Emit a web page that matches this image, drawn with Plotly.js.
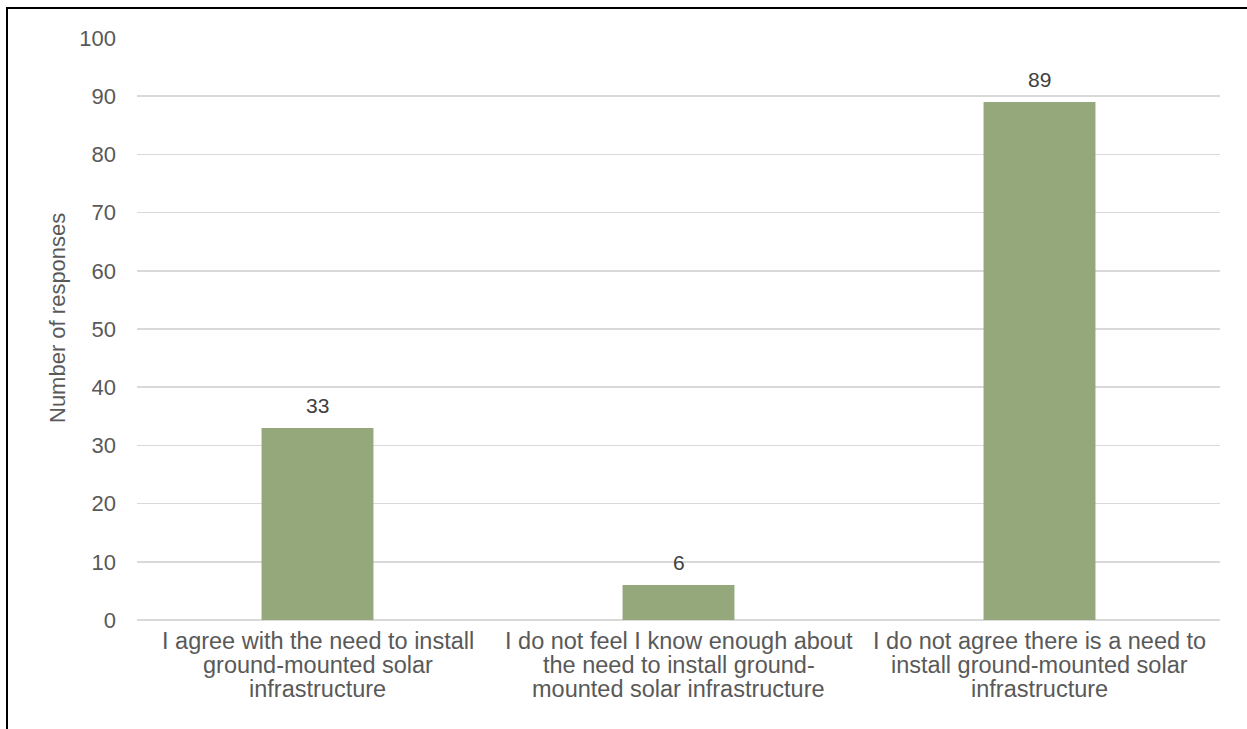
<!DOCTYPE html>
<html>
<head>
<meta charset="utf-8">
<script src="https://cdn.plot.ly/plotly-3.0.1.min.js"></script>
<style>
html,body{margin:0;padding:0;background:#fff;}
#chart{width:1247px;height:729px;}
</style>
</head>
<body>
<div id="chart"></div>
<script>
const categories = [
  "I agree with the need to install<br>ground-mounted solar<br>infrastructure",
  "I do not feel I know enough about<br>the need to install ground-<br>mounted solar infrastructure",
  "I do not agree there is a need to<br>install ground-mounted solar<br>infrastructure"
];
const responses = [33, 6, 89];
const yTitle = "Number of responses";

const W = 1247, H = 729;
const m = {l: 137, r: 27, t: 38, b: 109};
const pw = W - m.l - m.r, ph = H - m.t - m.b;
const px = x => (x - m.l) / pw;
const py = y => 1 - (y - m.t) / ph;
const FONT = "Liberation Sans, Arial, sans-serif";

const trace = {
  type: "bar",
  x: categories,
  y: responses,
  marker: {color: "#94a87b"},
  width: 0.31,
  hoverinfo: "x+y"
};

const annotations = [];
// data labels
categories.forEach((c, i) => {
  annotations.push({
    x: c, y: responses[i], xref: "x", yref: "y",
    text: String(responses[i]), showarrow: false,
    yanchor: "bottom", yshift: 9,
    font: {family: FONT, size: 21, color: "#404040"}
  });
});
// category labels, one annotation per line for Excel-like tight line spacing
categories.forEach((c, i) => {
  c.split("<br>").forEach((line, j) => {
    annotations.push({
      x: c, y: 0, xref: "x", yref: "paper",
      text: line, showarrow: false,
      yanchor: "top", yshift: -6 - j * 24,
      font: {family: FONT, size: 23.5, color: "#595959"}
    });
  });
});
// y-axis title
annotations.push({
  xref: "paper", yref: "paper", x: px(57), y: py(318),
  xanchor: "center", yanchor: "middle",
  text: yTitle, textangle: -90, showarrow: false,
  font: {family: FONT, size: 22, color: "#595959"}
});

const layout = {
  width: W, height: H,
  margin: m,
  paper_bgcolor: "#ffffff",
  plot_bgcolor: "#ffffff",
  showlegend: false,
  bargap: 0.69,
  font: {family: FONT, color: "#595959", size: 22},
  xaxis: {
    type: "category",
    showgrid: false,
    showline: false,
    zeroline: false,
    ticks: "",
    showticklabels: false,
    automargin: false
  },
  yaxis: {
    range: [0, 100],
    dtick: 10,
    showgrid: true,
    gridcolor: "#d9d9d9",
    gridwidth: 1.5,
    zeroline: true,
    zerolinecolor: "#d9d9d9",
    zerolinewidth: 1.5,
    showline: false,
    ticks: "",
    ticklabelstandoff: 20,
    tickfont: {family: FONT, size: 22, color: "#595959"},
    automargin: false
  },
  annotations: annotations,
  shapes: [
    {type: "line", xref: "paper", yref: "paper", x0: px(6), x1: px(1247), y0: py(8), y1: py(8), line: {color: "#000000", width: 2}},
    {type: "line", xref: "paper", yref: "paper", x0: px(7), x1: px(7), y0: py(8), y1: py(729), line: {color: "#000000", width: 2}}
  ]
};

Plotly.newPlot("chart", [trace], layout, {displayModeBar: false, staticPlot: true});
</script>
</body>
</html>
